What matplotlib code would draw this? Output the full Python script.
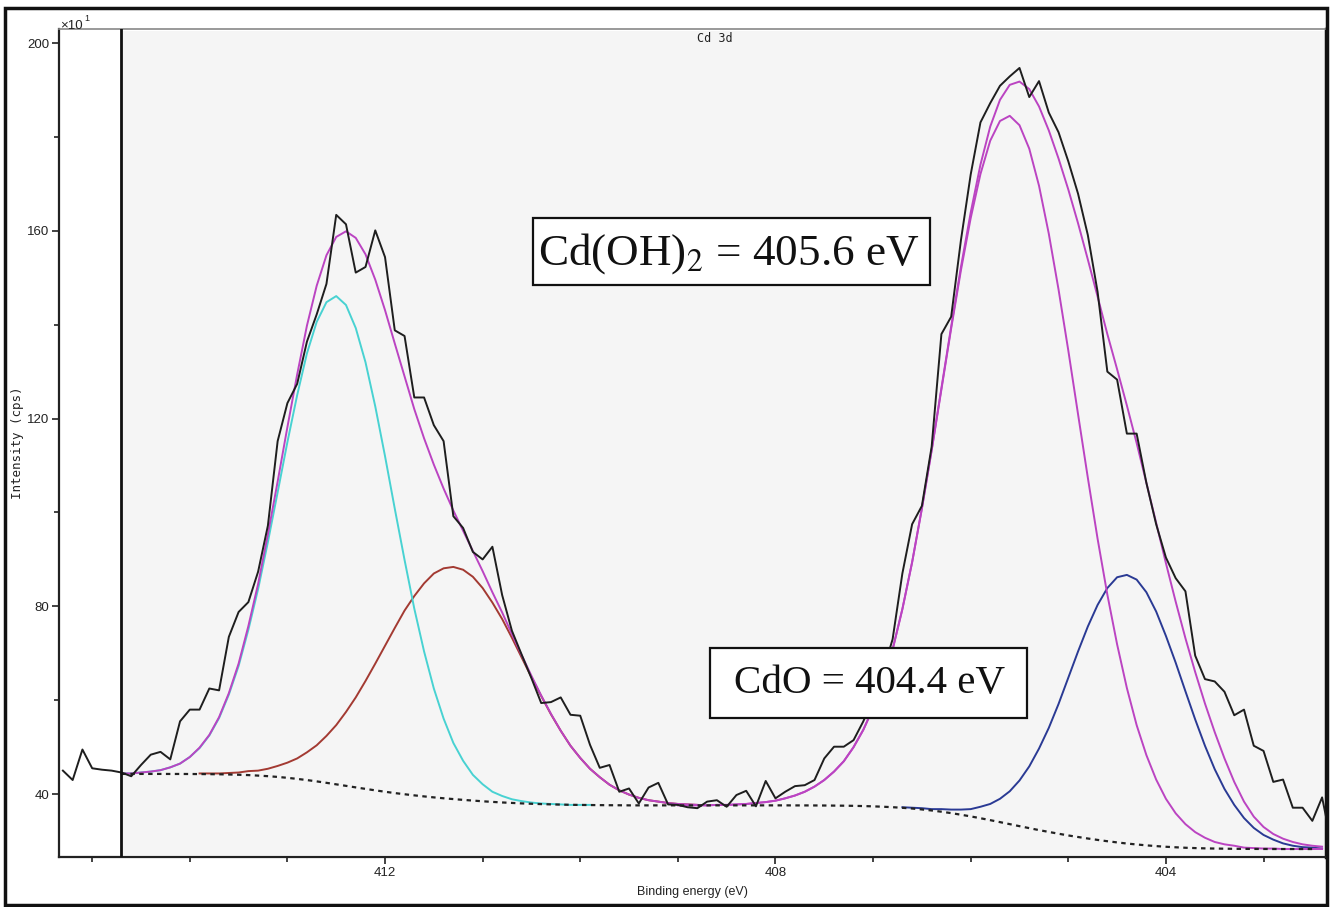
import numpy as np
import matplotlib
matplotlib.use("Agg")
import matplotlib.pyplot as plt
from matplotlib.patches import Rectangle
from matplotlib.ticker import MultipleLocator, FixedLocator

plt.rcParams['font.family'] = ['Liberation Sans', 'DejaVu Sans']
plt.rcParams['mathtext.fontset'] = 'stix'

# ---------------- data (binding energy grid step 0.1 eV, high -> low) ----------------
STEP = 0.1
data_start = 415.3
counts = [45.0, 43.0, 49.5, 45.5, 45.2, 45.0, 44.6, 43.8, 46.2, 48.4,
          49.0, 47.4, 55.5, 58.0, 58.0, 62.5, 62.1, 73.5, 78.8, 80.9,
          87.4, 97.2, 115.2, 123.3, 127.4, 136.4, 142.2, 148.7, 163.4, 161.4,
          151.1, 152.3, 160.1, 154.4, 138.8, 137.6, 124.5, 124.5, 118.6, 115.2,
          99.2, 96.7, 91.6, 90.0, 92.7, 82.4, 74.8, 69.7, 64.7, 59.4,
          59.6, 60.6, 56.9, 56.7, 50.5, 45.6, 46.2, 40.5, 41.2, 38.0,
          41.4, 42.4, 37.8, 37.7, 37.2, 37.0, 38.4, 38.7, 37.3, 39.8,
          40.7, 37.4, 42.8, 39.1, 40.5, 41.7, 41.9, 43.0, 47.6, 50.1,
          50.1, 51.5, 55.5, 60.5, 66.0, 73.0, 87.0, 97.5, 101.4, 114.0,
          138.0, 141.7, 158.0, 172.0, 183.1, 187.2, 190.9, 192.9, 194.7, 188.5,
          191.9, 185.2, 181.0, 174.8, 167.9, 159.1, 147.0, 130.0, 128.3, 116.8,
          116.8, 106.3, 97.5, 90.4, 86.0, 83.2, 69.5, 64.5, 64.0, 61.8,
          56.8, 58.0, 50.3, 49.2, 42.6, 43.1, 37.1, 37.1, 34.3, 39.3,
          29.0]

# Shirley background (dashed), 414.7 -> 402.4
bg_start = 414.7
background = [44.30, 44.30, 44.30, 44.30, 44.30, 44.29, 44.29, 44.28, 44.27, 44.25,
              44.22, 44.18, 44.12, 44.05, 43.94, 43.82, 43.66, 43.47, 43.24, 42.99,
              42.71, 42.40, 42.08, 41.76, 41.43, 41.11, 40.80, 40.50, 40.22, 39.97,
              39.73, 39.51, 39.30, 39.11, 38.94, 38.77, 38.62, 38.47, 38.34, 38.22,
              38.12, 38.02, 37.94, 37.87, 37.81, 37.76, 37.72, 37.69, 37.67, 37.65,
              37.63, 37.62, 37.60, 37.60, 37.60, 37.60, 37.60, 37.60, 37.60, 37.60,
              37.60, 37.60, 37.60, 37.60, 37.60, 37.60, 37.60, 37.60, 37.60, 37.59,
              37.59, 37.58, 37.57, 37.55, 37.53, 37.50, 37.45, 37.39, 37.31, 37.21,
              37.08, 36.93, 36.73, 36.51, 36.25, 35.95, 35.61, 35.25, 34.86, 34.45,
              34.03, 33.60, 33.17, 32.75, 32.33, 31.94, 31.56, 31.19, 30.86, 30.54,
              30.24, 29.96, 29.71, 29.47, 29.27, 29.08, 28.92, 28.78, 28.67, 28.57,
              28.50, 28.44, 28.40, 28.37, 28.34, 28.33, 28.32, 28.31, 28.30, 28.30,
              28.30, 28.30, 28.30]

# Cd 3d3/2 Cd(OH)2 component (cyan), 414.7 -> 409.9
cyan_start = 414.7
cyan_peak = [44.4, 44.4, 44.6, 44.8, 45.1, 45.7, 46.5, 47.9, 49.8, 52.5,
             56.2, 61.2, 67.3, 75.0, 83.7, 93.7, 104.3, 115.0, 125.0, 133.9,
             140.6, 144.8, 146.1, 144.2, 139.3, 132.0, 122.6, 112.0, 100.8, 89.9,
             79.5, 70.4, 62.5, 56.1, 50.9, 47.1, 44.1, 42.1, 40.5, 39.6,
             38.9, 38.5, 38.2, 38.0, 37.9, 37.8, 37.7, 37.7, 37.7]

# Cd 3d3/2 CdO component (brown), 413.9 -> 408.8
brown_start = 413.9
brown_peak = [44.4, 44.4, 44.4, 44.5, 44.6, 44.9, 45.0, 45.4, 46.0, 46.7,
              47.6, 48.9, 50.4, 52.4, 54.7, 57.5, 60.6, 64.1, 67.8, 71.6,
              75.4, 79.1, 82.2, 84.9, 87.0, 88.1, 88.4, 87.8, 86.3, 83.9,
              80.8, 77.3, 73.3, 69.1, 64.9, 60.9, 57.0, 53.5, 50.3, 47.7,
              45.4, 43.6, 42.0, 40.8, 39.9, 39.2, 38.7, 38.4, 38.1, 37.9,
              37.8, 37.7]

# Cd 3d5/2 Cd(OH)2 component (magenta), 409.0 -> 402.4
mag_start = 409.0
mag_peak = [37.6, 37.6, 37.6, 37.6, 37.7, 37.7, 37.8, 37.9, 38.1, 38.3,
            38.6, 39.1, 39.7, 40.5, 41.6, 43.0, 44.8, 47.0, 50.0, 53.7,
            58.3, 63.9, 70.8, 79.4, 89.4, 100.8, 113.2, 126.2, 139.2, 151.6,
            162.7, 172.1, 179.2, 183.4, 184.5, 182.5, 177.5, 169.6, 159.4, 147.5,
            134.5, 120.9, 107.4, 94.4, 82.5, 71.9, 62.6, 54.7, 48.3, 43.1,
            39.0, 35.9, 33.6, 31.9, 30.7, 29.8, 29.3, 29.0, 28.6, 28.5,
            28.4, 28.4, 28.3, 28.3, 28.3, 28.3, 28.3]

# Cd 3d5/2 CdO component (blue), 406.7 -> 402.4
blue_start = 406.7
blue_peak = [37.2, 37.1, 37.0, 36.8, 36.8, 36.7, 36.7, 36.8, 37.3, 37.9,
             39.0, 40.6, 42.9, 45.9, 49.7, 54.1, 59.2, 64.8, 70.4, 75.7,
             80.3, 83.9, 86.2, 86.7, 85.7, 83.0, 78.9, 73.7, 68.0, 61.9,
             55.9, 50.3, 45.3, 41.1, 37.7, 34.9, 32.8, 31.3, 30.3, 29.5,
             29.0, 28.7, 28.6, 28.4]

# Envelope (fit sum), 414.7 -> 402.4
env_start = 414.7
envelope = [44.4, 44.4, 44.6, 44.8, 45.1, 45.7, 46.5, 47.9, 49.9, 52.6,
            56.4, 61.5, 67.8, 75.8, 84.8, 95.3, 106.6, 118.2, 129.4, 139.8,
            148.3, 154.8, 158.7, 159.9, 158.5, 155.0, 149.6, 143.1, 136.0, 129.0,
            122.0, 115.8, 110.2, 105.1, 100.4, 96.1, 91.8, 87.5, 83.0, 78.7,
            74.1, 69.6, 65.2, 61.0, 57.1, 53.5, 50.3, 47.7, 45.4, 43.6,
            42.0, 40.8, 39.9, 39.2, 38.7, 38.4, 38.1, 37.9, 37.8, 37.7,
            37.6, 37.7, 37.7, 37.8, 37.9, 38.1, 38.3, 38.6, 39.1, 39.7,
            40.5, 41.6, 43.0, 44.8, 47.0, 50.0, 53.7, 58.3, 63.9, 70.8,
            79.4, 89.4, 100.9, 113.3, 126.5, 139.6, 152.3, 163.9, 174.1, 182.2,
            187.9, 191.1, 191.8, 190.2, 186.5, 181.4, 175.4, 168.8, 161.6, 153.9,
            146.0, 138.0, 130.5, 122.8, 114.8, 106.3, 97.8, 89.2, 81.0, 73.2,
            66.0, 59.3, 53.2, 47.6, 42.6, 38.4, 35.2, 33.0, 31.5, 30.5,
            29.8, 29.3, 29.0, 28.8]

region_start = 414.7
x_major = [412, 408, 404]
y_major = [40, 80, 120, 160, 200]
box1_text = r'Cd(OH)$_2$ = 405.6 eV'
box2_text = 'CdO = 404.4 eV'


def grid(start, values):
    return np.round(start - STEP * np.arange(len(values)), 2)


W, H = 1332, 907
fig = plt.figure(figsize=(W / 100, H / 100), dpi=100)
ax = fig.add_axes([59 / W, 50 / H, 1267 / W, 828 / H])
ax.set_xlim(415.34, 402.36)
ax.set_ylim(26.6, 203)
ax.set_facecolor('white')

# shaded region and region marker
ax.axvspan(region_start, 402.36, ymin=0.003, ymax=0.997, color='#f5f5f5', lw=0, zorder=0)
ax.axvline(region_start, color='#111111', lw=2.0, zorder=6)

ax.plot(grid(brown_start, brown_peak), brown_peak, color='#a33a32', lw=1.4, zorder=2)
ax.plot(grid(cyan_start, cyan_peak), cyan_peak, color='#48d2d2', lw=1.4, zorder=2)
ax.plot(grid(blue_start, blue_peak), blue_peak, color='#2a3a94', lw=1.4, zorder=2)
ax.plot(grid(mag_start, mag_peak), mag_peak, color='#bb44c2', lw=1.4, zorder=2)
ax.plot(grid(env_start, envelope), envelope, color='#bb44c2', lw=1.4, zorder=3)
ax.plot(grid(bg_start, background), background, color='#222222', lw=1.6,
        ls=(0, (2, 2)), zorder=4)
ax.plot(grid(data_start, counts), counts, color='#1e1e1e', lw=1.4, zorder=5)

# ticks
ax.xaxis.set_major_locator(FixedLocator(x_major))
ax.xaxis.set_minor_locator(MultipleLocator(1))
ax.yaxis.set_major_locator(FixedLocator(y_major))
ax.yaxis.set_minor_locator(MultipleLocator(20))
ax.tick_params(axis='both', which='major', direction='out', length=5, width=1.2,
               labelsize=9.5, pad=2, colors='#222222')
ax.tick_params(axis='both', which='minor', direction='out', length=3.5, width=1.2,
               colors='#222222')
for s in ['left', 'bottom']:
    ax.spines[s].set_linewidth(1.6)
    ax.spines[s].set_color('#222222')
ax.spines['top'].set_color('#888888')
ax.spines['top'].set_linewidth(1.2)
ax.spines['right'].set_color('#111111')
ax.spines['right'].set_linewidth(2.5)

# texts
fig.text(60 / W, 1 - 29 / H, '×10', fontsize=9.5, ha='left', va='baseline', color='#222222')
fig.text(84 / W, 1 - 21 / H, '1', fontsize=6.5, ha='left', va='baseline', color='#222222')
fig.text(715 / W, 1 - 38 / H, 'Cd 3d', fontsize=8.5, family='DejaVu Sans Mono',
         ha='center', va='center', color='#222222')
fig.text(18 / W, 1 - 443 / H, 'Intensity (cps)', fontsize=9, family='DejaVu Sans Mono',
         rotation=90, ha='center', va='center', color='#222222')
fig.text(692 / W, 1 - 892 / H, 'Binding energy (eV)', fontsize=9,
         ha='center', va='center', color='#222222')

# annotation boxes
fig.patches.append(Rectangle((533 / W, 1 - 285 / H), 397 / W, 67 / H, transform=fig.transFigure,
                             facecolor='white', edgecolor='#111111', lw=1.6, zorder=5))
fig.text(729 / W, 1 - 254 / H, box1_text, fontsize=32.5, family='Liberation Serif',
         ha='center', va='center', color='#111111', zorder=6)
fig.patches.append(Rectangle((710 / W, 1 - 718 / H), 317 / W, 70 / H, transform=fig.transFigure,
                             facecolor='white', edgecolor='#111111', lw=1.6, zorder=5))
fig.text(870 / W, 1 - 684 / H, box2_text, fontsize=29.5, family='Liberation Serif',
         ha='center', va='center', color='#111111', zorder=6)

# outer frame
fig.patches.append(Rectangle((5 / W, 2 / H), 1322 / W, 897 / H, transform=fig.transFigure,
                             facecolor='none', edgecolor='#111111', lw=2.5, zorder=10))

fig.savefig('out.png', dpi=100)
